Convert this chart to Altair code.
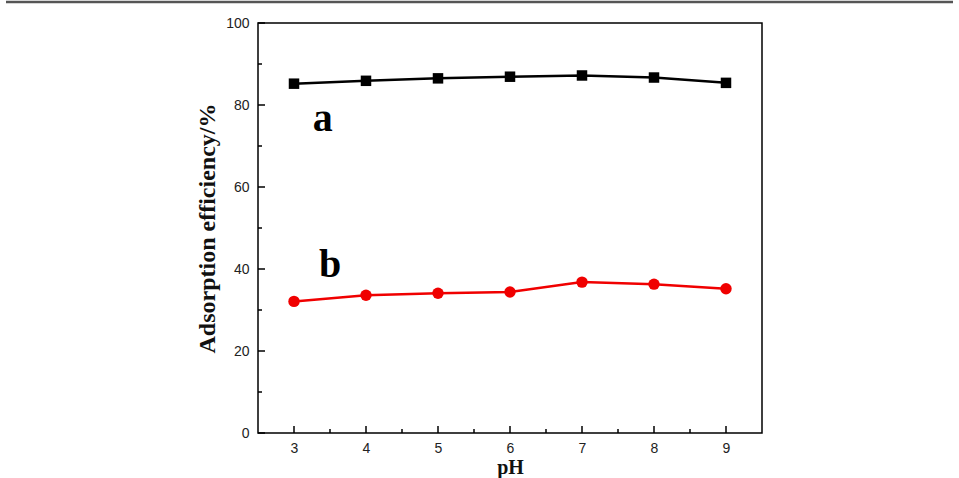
import altair as alt
import pandas as pd

ph = [3, 4, 5, 6, 7, 8, 9]
series_a = [85.2, 85.9, 86.5, 86.9, 87.2, 86.7, 85.4]
series_b = [32.1, 33.6, 34.1, 34.4, 36.8, 36.3, 35.2]

x_major = [3, 4, 5, 6, 7, 8, 9]
x_minor = [3.5, 4.5, 5.5, 6.5, 7.5, 8.5]
y_major = [0, 20, 40, 60, 80, 100]
y_minor = [10, 30, 50, 70, 90]

labels = ["a", "b"]
label_x = [3.4, 3.5]
label_y = [76.5, 41.0]

W, H = 504, 410
LEFT, TOP = 258, 23

df_a = pd.DataFrame({"pH": ph, "eff": series_a})
df_b = pd.DataFrame({"pH": ph, "eff": series_b})

xs = alt.Scale(domain=[2.5, 9.5], nice=False, zero=False)
ys = alt.Scale(domain=[0, 100], nice=False)

x_axis = alt.Axis(values=x_major, format="d", ticks=False, domain=False, grid=False,
                  labelPadding=8, labelFont="Liberation Sans", labelFontSize=14,
                  labelColor="#222", title="pH", titleFont="Liberation Serif",
                  titleFontSize=20, titleFontWeight="bold", titlePadding=2,
                  titleColor="#111", labelFlush=False)
y_axis = alt.Axis(values=y_major, format="d", ticks=False, domain=False, grid=False,
                  labelPadding=9, labelFont="Liberation Sans", labelFontSize=14,
                  labelColor="#222", title="Adsorption efficiency/%",
                  titleFont="Liberation Serif", titleFontSize=24,
                  titleFontWeight="bold", titlePadding=6, titleColor="#111",
                  labelFlush=False)

line_a = alt.Chart(df_a).mark_line(color="black", strokeWidth=2.5).encode(
    x=alt.X("pH:Q", scale=xs, axis=x_axis),
    y=alt.Y("eff:Q", scale=ys, axis=y_axis),
)
pts_a = alt.Chart(df_a).mark_point(shape="square", filled=True, color="black",
                                   size=110, opacity=1).encode(
    x=alt.X("pH:Q", scale=xs), y=alt.Y("eff:Q", scale=ys))

line_b = alt.Chart(df_b).mark_line(color="#f00000", strokeWidth=2.5).encode(
    x=alt.X("pH:Q", scale=xs), y=alt.Y("eff:Q", scale=ys))
pts_b = alt.Chart(df_b).mark_point(shape="circle", filled=True, color="#f00000",
                                   size=130, opacity=1).encode(
    x=alt.X("pH:Q", scale=xs), y=alt.Y("eff:Q", scale=ys))

txt = alt.Chart(pd.DataFrame({"x": label_x, "y": label_y, "t": labels})).mark_text(
    font="Liberation Serif", fontSize=40, fontWeight="bold", color="black",
    baseline="middle", align="center").encode(
    x=alt.X("x:Q", scale=xs), y=alt.Y("y:Q", scale=ys), text="t:N")

xmaj = alt.Chart(pd.DataFrame({"v": x_major})).mark_rule(color="black", strokeWidth=1.5).encode(
    x=alt.X("v:Q", scale=xs), y=alt.value(H), y2=alt.value(H - 7))
xmin = alt.Chart(pd.DataFrame({"v": x_minor})).mark_rule(color="black", strokeWidth=1.5).encode(
    x=alt.X("v:Q", scale=xs), y=alt.value(H), y2=alt.value(H - 4))
ymaj = alt.Chart(pd.DataFrame({"v": y_major})).mark_rule(color="black", strokeWidth=1.5).encode(
    y=alt.Y("v:Q", scale=ys), x=alt.value(0), x2=alt.value(7))
ymin = alt.Chart(pd.DataFrame({"v": y_minor})).mark_rule(color="black", strokeWidth=1.5).encode(
    y=alt.Y("v:Q", scale=ys), x=alt.value(0), x2=alt.value(4))

border = alt.Chart(pd.DataFrame({"d": [0]})).mark_rule(color="#555", strokeWidth=2.5).encode(
    x=alt.value(6 - LEFT), x2=alt.value(953 - LEFT), y=alt.value(2 - TOP))

chart = alt.layer(line_a, pts_a, line_b, pts_b, txt, xmaj, xmin, ymaj, ymin, border).properties(
    width=W, height=H,
    autosize=alt.AutoSizeParams(type="none"),
    padding={"left": LEFT, "top": TOP, "right": 959 - LEFT - W, "bottom": 478 - TOP - H},
    background="white",
).configure_view(stroke="black", strokeWidth=1.5)

chart.save("out.html", embed_options={"renderer": "svg", "actions": False})
